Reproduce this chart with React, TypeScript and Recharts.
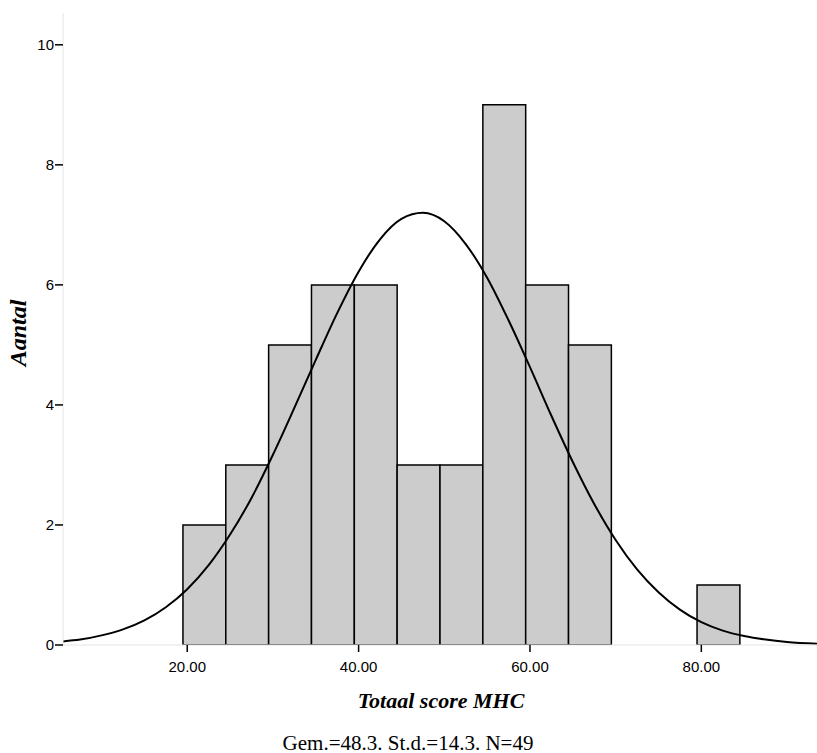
import React from 'react';
import {
  ComposedChart,
  Line,
  XAxis,
  YAxis,
  ReferenceArea,
} from 'recharts';

// histogram bins (lower / upper edge) and counts
const binLow = [19.5, 24.5, 29.5, 34.5, 39.5, 44.5, 49.5, 54.5, 59.5, 64.5, 79.5];
const binHigh = [24.5, 29.5, 34.5, 39.5, 44.5, 49.5, 54.5, 59.5, 64.5, 69.5, 84.5];
const counts = [2, 3, 5, 6, 6, 3, 3, 9, 6, 5, 1];

// normal curve
const curveX = [
  5.5, 7.5, 10, 12.5, 15, 17.5, 20, 22.5, 25, 27.5, 30, 32.5, 35, 37.5, 40, 42.5, 45,
  47.5, 50, 52.5, 55, 57.5, 60, 62.5, 65, 67.5, 70, 72.5, 75, 77.5, 80, 82.5, 85,
  87.5, 90, 93.5,
];
const curveY = [
  0.06, 0.09, 0.16, 0.26, 0.41, 0.63, 0.93, 1.33, 1.84, 2.45, 3.17, 3.95, 4.75, 5.53,
  6.22, 6.76, 7.1, 7.2, 7.06, 6.68, 6.12, 5.41, 4.63, 3.82, 3.05, 2.35, 1.75, 1.26,
  0.88, 0.59, 0.38, 0.24, 0.15, 0.09, 0.05, 0.02,
];

const xTicks = [20, 40, 60, 80];
const yTicks = [0, 2, 4, 6, 8, 10];

const curveData = curveX.map((x, i) => ({ x, y: curveY[i] }));

const tickFont = { fill: '#000', fontSize: 15, fontFamily: 'Liberation Sans, Arial, sans-serif' };

export default function App() {
  return (
    <div style={{ position: 'absolute', left: 0, top: 0, width: 817, height: 753, background: '#fff' }}>
      <ComposedChart
        width={817}
        height={753}
        data={curveData}
        margin={{ top: 13, right: 0, bottom: 0, left: 0 }}
      >
        <XAxis
          dataKey="x"
          type="number"
          domain={[5.5, 93.5]}
          allowDataOverflow
          ticks={xTicks}
          tickFormatter={(v: number) => v.toFixed(2)}
          height={108}
          tickSize={7}
          tickMargin={9}
          stroke="#e4e4e4"
          tickLine={{ stroke: '#000', strokeWidth: 1.5 }}
          tick={tickFont}
        />
        <YAxis
          type="number"
          domain={[0, 10.53]}
          allowDataOverflow
          ticks={yTicks}
          width={63}
          tickSize={8}
          tickMargin={1}
          stroke="#e4e4e4"
          tickLine={{ stroke: '#000', strokeWidth: 1.5 }}
          tick={tickFont}
        />
        {counts.map((c, i) => (
          <ReferenceArea
            key={i}
            x1={binLow[i]}
            x2={binHigh[i]}
            y1={0}
            y2={c}
            fill="#cccccc"
            fillOpacity={1}
            stroke="#000"
            strokeWidth={1.5}
            ifOverflow="hidden"
          />
        ))}
        <Line
          type="monotone"
          dataKey="y"
          stroke="#000"
          strokeWidth={2}
          dot={false}
          isAnimationActive={false}
        />
      </ComposedChart>

      <div
        style={{
          position: 'absolute',
          left: 18,
          top: 333,
          transform: 'translate(-50%, -50%) rotate(-90deg)',
          fontFamily: 'Liberation Serif, Times New Roman, serif',
          fontWeight: 'bold',
          fontStyle: 'italic',
          fontSize: 24,
          whiteSpace: 'nowrap',
        }}
      >
        Aantal
      </div>
      <div
        style={{
          position: 'absolute',
          left: 441,
          top: 701,
          transform: 'translate(-50%, -50%)',
          fontFamily: 'Liberation Serif, Times New Roman, serif',
          fontWeight: 'bold',
          fontStyle: 'italic',
          fontSize: 22,
          whiteSpace: 'nowrap',
        }}
      >
        Totaal score MHC
      </div>
      <div
        style={{
          position: 'absolute',
          left: 408,
          top: 743,
          transform: 'translate(-50%, -50%)',
          fontFamily: 'Liberation Serif, Times New Roman, serif',
          fontSize: 21,
          whiteSpace: 'nowrap',
        }}
      >
        Gem.=48.3. St.d.=14.3. N=49
      </div>
    </div>
  );
}
